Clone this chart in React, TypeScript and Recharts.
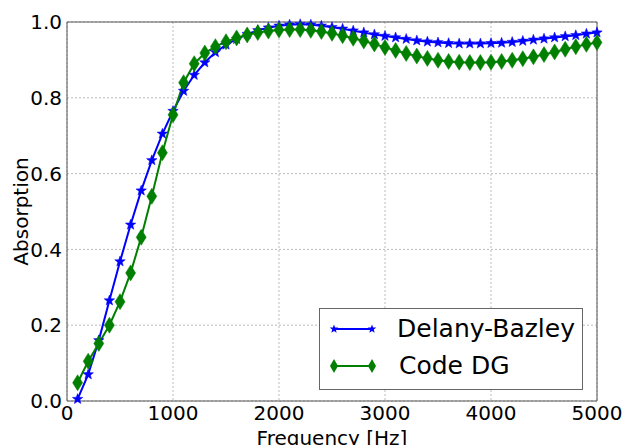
import React from 'react';
import { LineChart, Line, XAxis, YAxis, CartesianGrid, ReferenceArea } from 'recharts';

const freqs = [
  100, 200, 300, 400, 500, 600, 700, 800, 900, 1000,
  1100, 1200, 1300, 1400, 1500, 1600, 1700, 1800, 1900, 2000,
  2100, 2200, 2300, 2400, 2500, 2600, 2700, 2800, 2900, 3000,
  3100, 3200, 3300, 3400, 3500, 3600, 3700, 3800, 3900, 4000,
  4100, 4200, 4300, 4400, 4500, 4600, 4700, 4800, 4900, 5000,
];

const delanyBazley = [
  0.005, 0.07, 0.16, 0.265, 0.368, 0.465, 0.555, 0.635, 0.705, 0.765,
  0.818, 0.86, 0.893, 0.92, 0.94, 0.955, 0.968, 0.978, 0.985, 0.99,
  0.993, 0.994, 0.993, 0.99, 0.986, 0.982, 0.977, 0.972, 0.967, 0.963,
  0.959, 0.955, 0.951, 0.948, 0.946, 0.944, 0.943, 0.943, 0.943, 0.944,
  0.945, 0.947, 0.95, 0.953, 0.956, 0.959, 0.962, 0.965, 0.969, 0.972,
];

const codeDG = [
  0.048, 0.105, 0.152, 0.2, 0.262, 0.338, 0.432, 0.54, 0.655, 0.755,
  0.84, 0.89, 0.918, 0.935, 0.948, 0.958, 0.966, 0.972, 0.976, 0.979,
  0.98, 0.98, 0.978, 0.975, 0.97, 0.964, 0.957, 0.95, 0.942, 0.933,
  0.925, 0.917, 0.91, 0.904, 0.899, 0.896, 0.894, 0.893, 0.893, 0.894,
  0.896, 0.899, 0.903, 0.908, 0.914, 0.921, 0.928, 0.935, 0.941, 0.946,
];

const xTicks = [0, 1000, 2000, 3000, 4000, 5000];
const yTicks = [0, 0.2, 0.4, 0.6, 0.8, 1.0];

const data = freqs.map((f, i) => ({ f, db: delanyBazley[i], dg: codeDG[i] }));

const BLUE = '#0000ff';
const GREEN = '#007f00';
const FONT = '"DejaVu Sans", sans-serif';

function starPath(cx: number, cy: number, r: number) {
  const pts: string[] = [];
  for (let i = 0; i < 10; i++) {
    const rr = i % 2 === 0 ? r : r * 0.42;
    const a = -Math.PI / 2 + (i * Math.PI) / 5;
    pts.push(`${(cx + rr * Math.cos(a)).toFixed(2)},${(cy + rr * Math.sin(a)).toFixed(2)}`);
  }
  return 'M' + pts.join('L') + 'Z';
}

function diamondPath(cx: number, cy: number, h: number, w: number) {
  return `M${cx},${cy - h}L${cx + w},${cy}L${cx},${cy + h}L${cx - w},${cy}Z`;
}

const Star = ({ cx, cy }: any) => {
  if (cx == null || cy == null) return null;
  return <path d={starPath(cx, cy, 5.5)} fill={BLUE} stroke={BLUE} strokeWidth={0.5} />;
};

const Diamond = ({ cx, cy }: any) => {
  if (cx == null || cy == null) return null;
  return <path d={diamondPath(cx, cy, 8, 5)} fill={GREEN} stroke={GREEN} strokeWidth={0.5} />;
};

// legend drawn as an overlay so it doesn't steal plot height
const LegendBox = () => (
  <div
    style={{
      position: 'absolute',
      left: 319,
      top: 308,
      width: 264,
      height: 82,
      border: '1px solid #666',
      background: '#fff',
      boxSizing: 'border-box',
    }}
  >
    <svg width={264} height={82} style={{ position: 'absolute', left: -1, top: -1 }}>
      <line x1={15} y1={21} x2={53} y2={21} stroke={BLUE} strokeWidth={2} />
      <path d={starPath(15, 21, 4.5)} fill={BLUE} />
      <path d={starPath(53, 21, 4.5)} fill={BLUE} />
      <text x={78} y={20} dominantBaseline="central" fontSize={25} fill="#000" fontFamily={FONT}>
        Delany-Bazley
      </text>
      <line x1={15} y1={58} x2={53} y2={58} stroke={GREEN} strokeWidth={2} />
      <path d={diamondPath(15, 58, 7, 4)} fill={GREEN} />
      <path d={diamondPath(53, 58, 7, 4)} fill={GREEN} />
      <text x={80} y={57} dominantBaseline="central" fontSize={25} fill="#000" fontFamily={FONT}>
        Code DG
      </text>
    </svg>
  </div>
);

export default function App() {
  return (
    <div style={{ position: 'absolute', left: 0, top: 0, width: 622, height: 445, background: '#fff', overflow: 'hidden' }}>
      <LineChart
        width={622}
        height={445}
        data={data}
        margin={{ top: 22, right: 25, bottom: 0, left: 0 }}
        style={{ fontFamily: FONT }}
      >
        <CartesianGrid stroke="#bbbbbb" strokeDasharray="2 2" />
        <XAxis
          dataKey="f"
          type="number"
          domain={[0, 5000]}
          ticks={xTicks}
          height={44}
          tickLine={false}
          axisLine={false}
          tickSize={3}
          tickMargin={2}
          tick={{ fontSize: 20, fill: '#000', fontFamily: FONT }}
          label={{ value: 'Frequency [Hz]', position: 'insideBottom', offset: 0, fontSize: 20, fill: '#000', fontFamily: FONT }}
        />
        <YAxis
          type="number"
          domain={[0, 1]}
          ticks={yTicks}
          width={67}
          tickLine={false}
          axisLine={false}
          tickSize={3}
          tickMargin={2}
          tickFormatter={(v: number) => v.toFixed(1)}
          tick={{ fontSize: 20, fill: '#000', fontFamily: FONT }}
          label={{ value: 'Absorption', angle: -90, position: 'center', dx: -13, fontSize: 20, fill: '#000', fontFamily: FONT }}
        />
        <ReferenceArea x1={0} x2={5000} y1={0} y2={1} fill="none" stroke="#555" strokeWidth={1} ifOverflow="visible" />
        <Line
          dataKey="db"
          name="Delany-Bazley"
          stroke={BLUE}
          strokeWidth={2}
          dot={<Star />}
          activeDot={false}
          isAnimationActive={false}
        />
        <Line
          dataKey="dg"
          name="Code DG"
          stroke={GREEN}
          strokeWidth={2}
          dot={<Diamond />}
          activeDot={false}
          isAnimationActive={false}
        />
      </LineChart>
      <LegendBox />
    </div>
  );
}
